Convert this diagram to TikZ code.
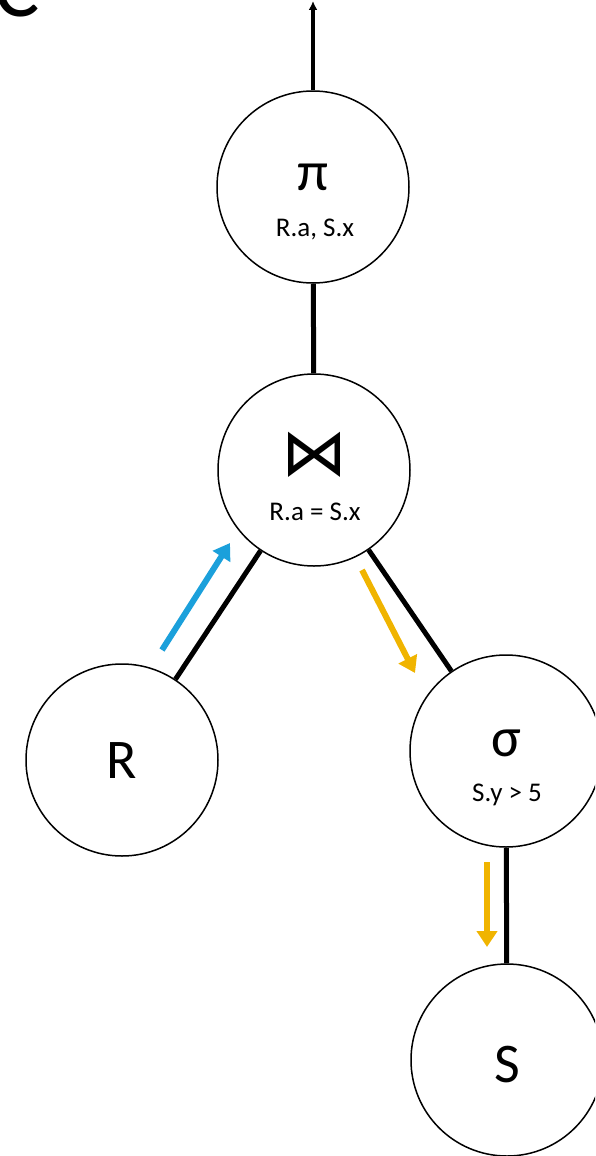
\documentclass[tikz,border=0pt]{standalone}
\usepackage{fontspec}
\setmainfont{Carlito}
\newfontfamily\symfont{DejaVu Sans}
\usetikzlibrary{arrows.meta}
\definecolor{flowblue}{RGB}{27,160,219}
\definecolor{flowyellow}{RGB}{240,180,0}
\tikzset{
	op/.style={circle,draw,line width=1.5pt,minimum size=192pt,inner sep=0pt},
	big/.style={font=\fontsize{56}{60}\selectfont,anchor=base,inner sep=0pt},
	cond/.style={font=\fontsize{27}{30}\selectfont,anchor=base,inner sep=0pt},
	edge/.style={line width=5pt},
	pull/.style={line width=6pt,-{Triangle[length=16pt,width=20pt]}},
}
\begin{document}
\begin{tikzpicture}[x=1pt,y=-1pt]
		\clip (0,0) rectangle (595,1156);
		%	\draw[help lines,step=50] (0,0) grid (595,1156);
			\node[font=\fontsize{85}{85}\selectfont,anchor=base west,inner sep=0pt] (tag) at (-6,17) {C};
			% operators
			\node[op] (pi) at (313,187) {};
			\node[op] (join) at (314,470) {};
			\node[op] (R) at (122,760) {};
			\node[op] (sigma) at (506,751) {};
			\node[op] (S) at (507,1060) {};
			\node[big] (pi-sym) at (313,190) {π};
			\node[cond] (pi-cond) at (315,236) {R.a, S.x};
			\node[big,font=\symfont\fontsize{66}{66}\selectfont] (join-sym) at (314,475) {⋈};
			\node[cond] (join-cond) at (315,520) {R.a = S.x};
			\node[big] (R-sym) at (122,778) {R};
			\node[big] (sigma-sym) at (506,756) {σ};
			\node[cond] (sigma-cond) at (507,801) {S.y > 5};
			\node[big] (S-sym) at (507,1082) {S};
			% tree edges
			\coordinate (out) at (313,1);
			\draw[line width=4pt,-{Latex[length=9pt,width=9pt]}] (pi) -- (out);
			\draw[edge] (pi) -- (join);
			\draw[edge] (join) -- (R);
			\draw[edge] (join) -- (sigma);
			\draw[edge] (sigma) -- (S);
			% data flow
			\coordinate (b0) at (162,650);
			\coordinate (b1) at (230,543);
			\coordinate (y0) at (362,570);
			\coordinate (y1) at (415,673);
			\coordinate (y2) at (487,862);
			\coordinate (y3) at (487,947);
			\draw[pull,flowblue] (b0) -- (b1);
			\draw[pull,flowyellow] (y0) -- (y1);
			\draw[pull,flowyellow] (y2) -- (y3);
		\end{tikzpicture}
\end{document}
